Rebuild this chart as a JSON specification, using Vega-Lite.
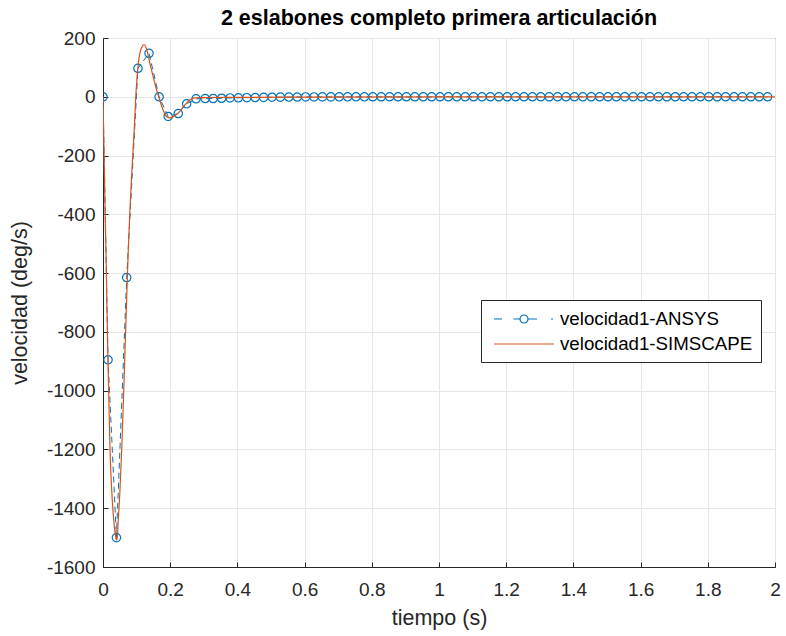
{
  "$schema": "https://vega.github.io/schema/vega-lite/v6.json",
  "width": 672,
  "height": 529,
  "autosize": {"type": "none"},
  "padding": {"left": 103, "top": 38, "right": 11, "bottom": 69},
  "background": "white",
  "title": {
    "text": "2 eslabones completo primera articulación",
    "font": "Liberation Sans",
    "fontSize": 21.5,
    "fontWeight": "bold",
    "color": "#000000",
    "anchor": "middle",
    "offset": 0
  },
  "config": {
    "font": "Liberation Sans",
    "view": {"stroke": "#262626", "strokeWidth": 1},
    "axis": {
      "labelFont": "Liberation Sans",
      "labelFontSize": 19,
      "labelColor": "#262626",
      "labelFlush": false,
      "labelOverlap": false,
      "titleFont": "Liberation Sans",
      "titleFontSize": 21.5,
      "titleFontWeight": "normal",
      "titleColor": "#262626",
      "domainColor": "#262626",
      "tickColor": "#262626",
      "gridColor": "#e6e6e6",
      "gridWidth": 1,
      "tickSize": -5,
      "labelExpr": "'' + datum.value"
    }
  },
  "datasets": {
    "ansys": [
      {"t": 0, "v": 0}, {"t": 0.015, "v": -895}, {"t": 0.040, "v": -1500}, {"t": 0.0705, "v": -615},
      {"t": 0.104, "v": 97}, {"t": 0.137, "v": 148}, {"t": 0.167, "v": 0}, {"t": 0.194, "v": -67},
      {"t": 0.224, "v": -57}, {"t": 0.249, "v": -24}, {"t": 0.277, "v": -7}, {"t": 0.304, "v": -6},
      {"t": 0.328, "v": -6}, {"t": 0.353, "v": -5}, {"t": 0.378, "v": -4}, {"t": 0.403, "v": -3.5},
      {"t": 0.428, "v": -3}, {"t": 0.453, "v": -2.5}, {"t": 0.478, "v": -2}, {"t": 0.503, "v": -1.5},
      {"t": 0.528, "v": -1.2}, {"t": 0.553, "v": -1}, {"t": 0.578, "v": -0.8}, {"t": 0.603, "v": -0.6},
      {"t": 0.628, "v": -0.5}, {"t": 0.653, "v": -0.4}, {"t": 0.678, "v": -0.3}, {"t": 0.703, "v": -0.2},
      {"t": 0.728, "v": -0.2}, {"t": 0.753, "v": -0.1}, {"t": 0.778, "v": -0.1}, {"t": 0.803, "v": 0},
      {"t": 0.828, "v": 0}, {"t": 0.853, "v": 0}, {"t": 0.878, "v": 0}, {"t": 0.903, "v": 0},
      {"t": 0.928, "v": 0}, {"t": 0.953, "v": 0}, {"t": 0.978, "v": 0}, {"t": 1.003, "v": 0},
      {"t": 1.028, "v": 0}, {"t": 1.053, "v": 0}, {"t": 1.078, "v": 0}, {"t": 1.103, "v": 0},
      {"t": 1.128, "v": 0}, {"t": 1.153, "v": 0}, {"t": 1.178, "v": 0}, {"t": 1.203, "v": 0},
      {"t": 1.228, "v": 0}, {"t": 1.253, "v": 0}, {"t": 1.278, "v": 0}, {"t": 1.303, "v": 0},
      {"t": 1.328, "v": 0}, {"t": 1.353, "v": 0}, {"t": 1.378, "v": 0}, {"t": 1.403, "v": 0},
      {"t": 1.428, "v": 0}, {"t": 1.453, "v": 0}, {"t": 1.478, "v": 0}, {"t": 1.503, "v": 0},
      {"t": 1.528, "v": 0}, {"t": 1.553, "v": 0}, {"t": 1.578, "v": 0}, {"t": 1.603, "v": 0},
      {"t": 1.628, "v": 0}, {"t": 1.653, "v": 0}, {"t": 1.678, "v": 0}, {"t": 1.703, "v": 0},
      {"t": 1.728, "v": 0}, {"t": 1.753, "v": 0}, {"t": 1.778, "v": 0}, {"t": 1.803, "v": 0},
      {"t": 1.828, "v": 0}, {"t": 1.853, "v": 0}, {"t": 1.878, "v": 0}, {"t": 1.903, "v": 0},
      {"t": 1.928, "v": 0}, {"t": 1.953, "v": 0}, {"t": 1.978, "v": 0}
    ],
    "simscape": [
      {"t": 0, "v": 0}, {"t": 0.003, "v": -190}, {"t": 0.006, "v": -370}, {"t": 0.009, "v": -540},
      {"t": 0.014, "v": -860}, {"t": 0.0208, "v": -1200}, {"t": 0.0255, "v": -1330}, {"t": 0.0298, "v": -1410},
      {"t": 0.034, "v": -1465}, {"t": 0.0378, "v": -1497}, {"t": 0.040, "v": -1508}, {"t": 0.042, "v": -1505},
      {"t": 0.0455, "v": -1440}, {"t": 0.050, "v": -1350}, {"t": 0.0557, "v": -1200}, {"t": 0.062, "v": -990},
      {"t": 0.067, "v": -810}, {"t": 0.0723, "v": -622}, {"t": 0.0753, "v": -520}, {"t": 0.080, "v": -390},
      {"t": 0.085, "v": -275}, {"t": 0.089, "v": -190}, {"t": 0.093, "v": -112}, {"t": 0.097, "v": -10},
      {"t": 0.101, "v": 60}, {"t": 0.105, "v": 112}, {"t": 0.110, "v": 150}, {"t": 0.115, "v": 168},
      {"t": 0.120, "v": 176}, {"t": 0.123, "v": 177}, {"t": 0.127, "v": 171}, {"t": 0.132, "v": 152},
      {"t": 0.140, "v": 112}, {"t": 0.150, "v": 65}, {"t": 0.160, "v": 22}, {"t": 0.167, "v": -5},
      {"t": 0.175, "v": -33}, {"t": 0.185, "v": -60}, {"t": 0.196, "v": -72}, {"t": 0.205, "v": -70},
      {"t": 0.215, "v": -63}, {"t": 0.224, "v": -55}, {"t": 0.240, "v": -33}, {"t": 0.254, "v": -15},
      {"t": 0.265, "v": -7}, {"t": 0.274, "v": -4}, {"t": 0.30, "v": -3}, {"t": 0.40, "v": -2},
      {"t": 0.60, "v": -1}, {"t": 1.0, "v": 0}, {"t": 2.0, "v": 0}
    ]
  },
  "layer": [
    {
      "data": {"name": "ansys"},
      "transform": [{"calculate": "'velocidad1-ANSYS'", "as": "serie"}],
      "mark": {"type": "line", "strokeWidth": 1, "strokeDash": [6, 4], "clip": true},
      "encoding": {
        "x": {"field": "t", "type": "quantitative", "scale": {"domain": [0, 2], "nice": false},
              "axis": {"title": "tiempo (s)", "values": [0, 0.2, 0.4, 0.6, 0.8, 1, 1.2, 1.4, 1.6, 1.8, 2], "labelPadding": 18, "titlePadding": 8}},
        "y": {"field": "v", "type": "quantitative", "scale": {"domain": [-1600, 200], "nice": false},
              "axis": {"title": "velocidad (deg/s)", "values": [-1600, -1400, -1200, -1000, -800, -600, -400, -200, 0, 200], "labelPadding": 13, "titlePadding": 15}},
        "color": {"field": "serie", "type": "nominal",
                  "scale": {"domain": ["velocidad1-ANSYS", "velocidad1-SIMSCAPE"], "range": ["#0072BD", "#D95319"]},
                  "legend": {"title": null, "orient": "none", "legendX": 378, "legendY": 262,
                             "symbolType": "M-3,0H3", "symbolSize": 400, "symbolStrokeWidth": 1.2, "symbolOffset": 24,
                             "symbolFillColor": "transparent",
                             "labelFont": "Liberation Sans", "labelFontSize": 18.7, "labelColor": "#000000", "labelLimit": 400,
                             "strokeColor": "#262626", "fillColor": "white", "padding": 8, "rowPadding": 4,
                             "labelOffset": 25,
                             "encode": {"symbols": {"update": {"shape": {"signal": "datum.value === 'velocidad1-ANSYS' ? 'M-3,0H-2.2M-1.05,0H-0.4M0.4,0A0.4,0.4 0 1,1 -0.4,0A0.4,0.4 0 1,1 0.4,0M0.4,0H1.3M2.7,0H2.9' : 'M-3,0H3'"}}}}}}
      }
    },
    {
      "data": {"name": "ansys"},
      "transform": [{"calculate": "'velocidad1-ANSYS'", "as": "serie"}],
      "mark": {"type": "point", "shape": "circle", "filled": false, "size": 70, "strokeWidth": 1.2, "opacity": 1, "clip": true},
      "encoding": {
        "x": {"field": "t", "type": "quantitative"},
        "y": {"field": "v", "type": "quantitative"},
        "color": {"field": "serie", "type": "nominal"}
      }
    },
    {
      "data": {"name": "simscape"},
      "transform": [{"calculate": "'velocidad1-SIMSCAPE'", "as": "serie"}],
      "mark": {"type": "line", "strokeWidth": 1.2, "interpolate": "monotone", "clip": true},
      "encoding": {
        "x": {"field": "t", "type": "quantitative"},
        "y": {"field": "v", "type": "quantitative"},
        "color": {"field": "serie", "type": "nominal"}
      }
    }
  ]
}
